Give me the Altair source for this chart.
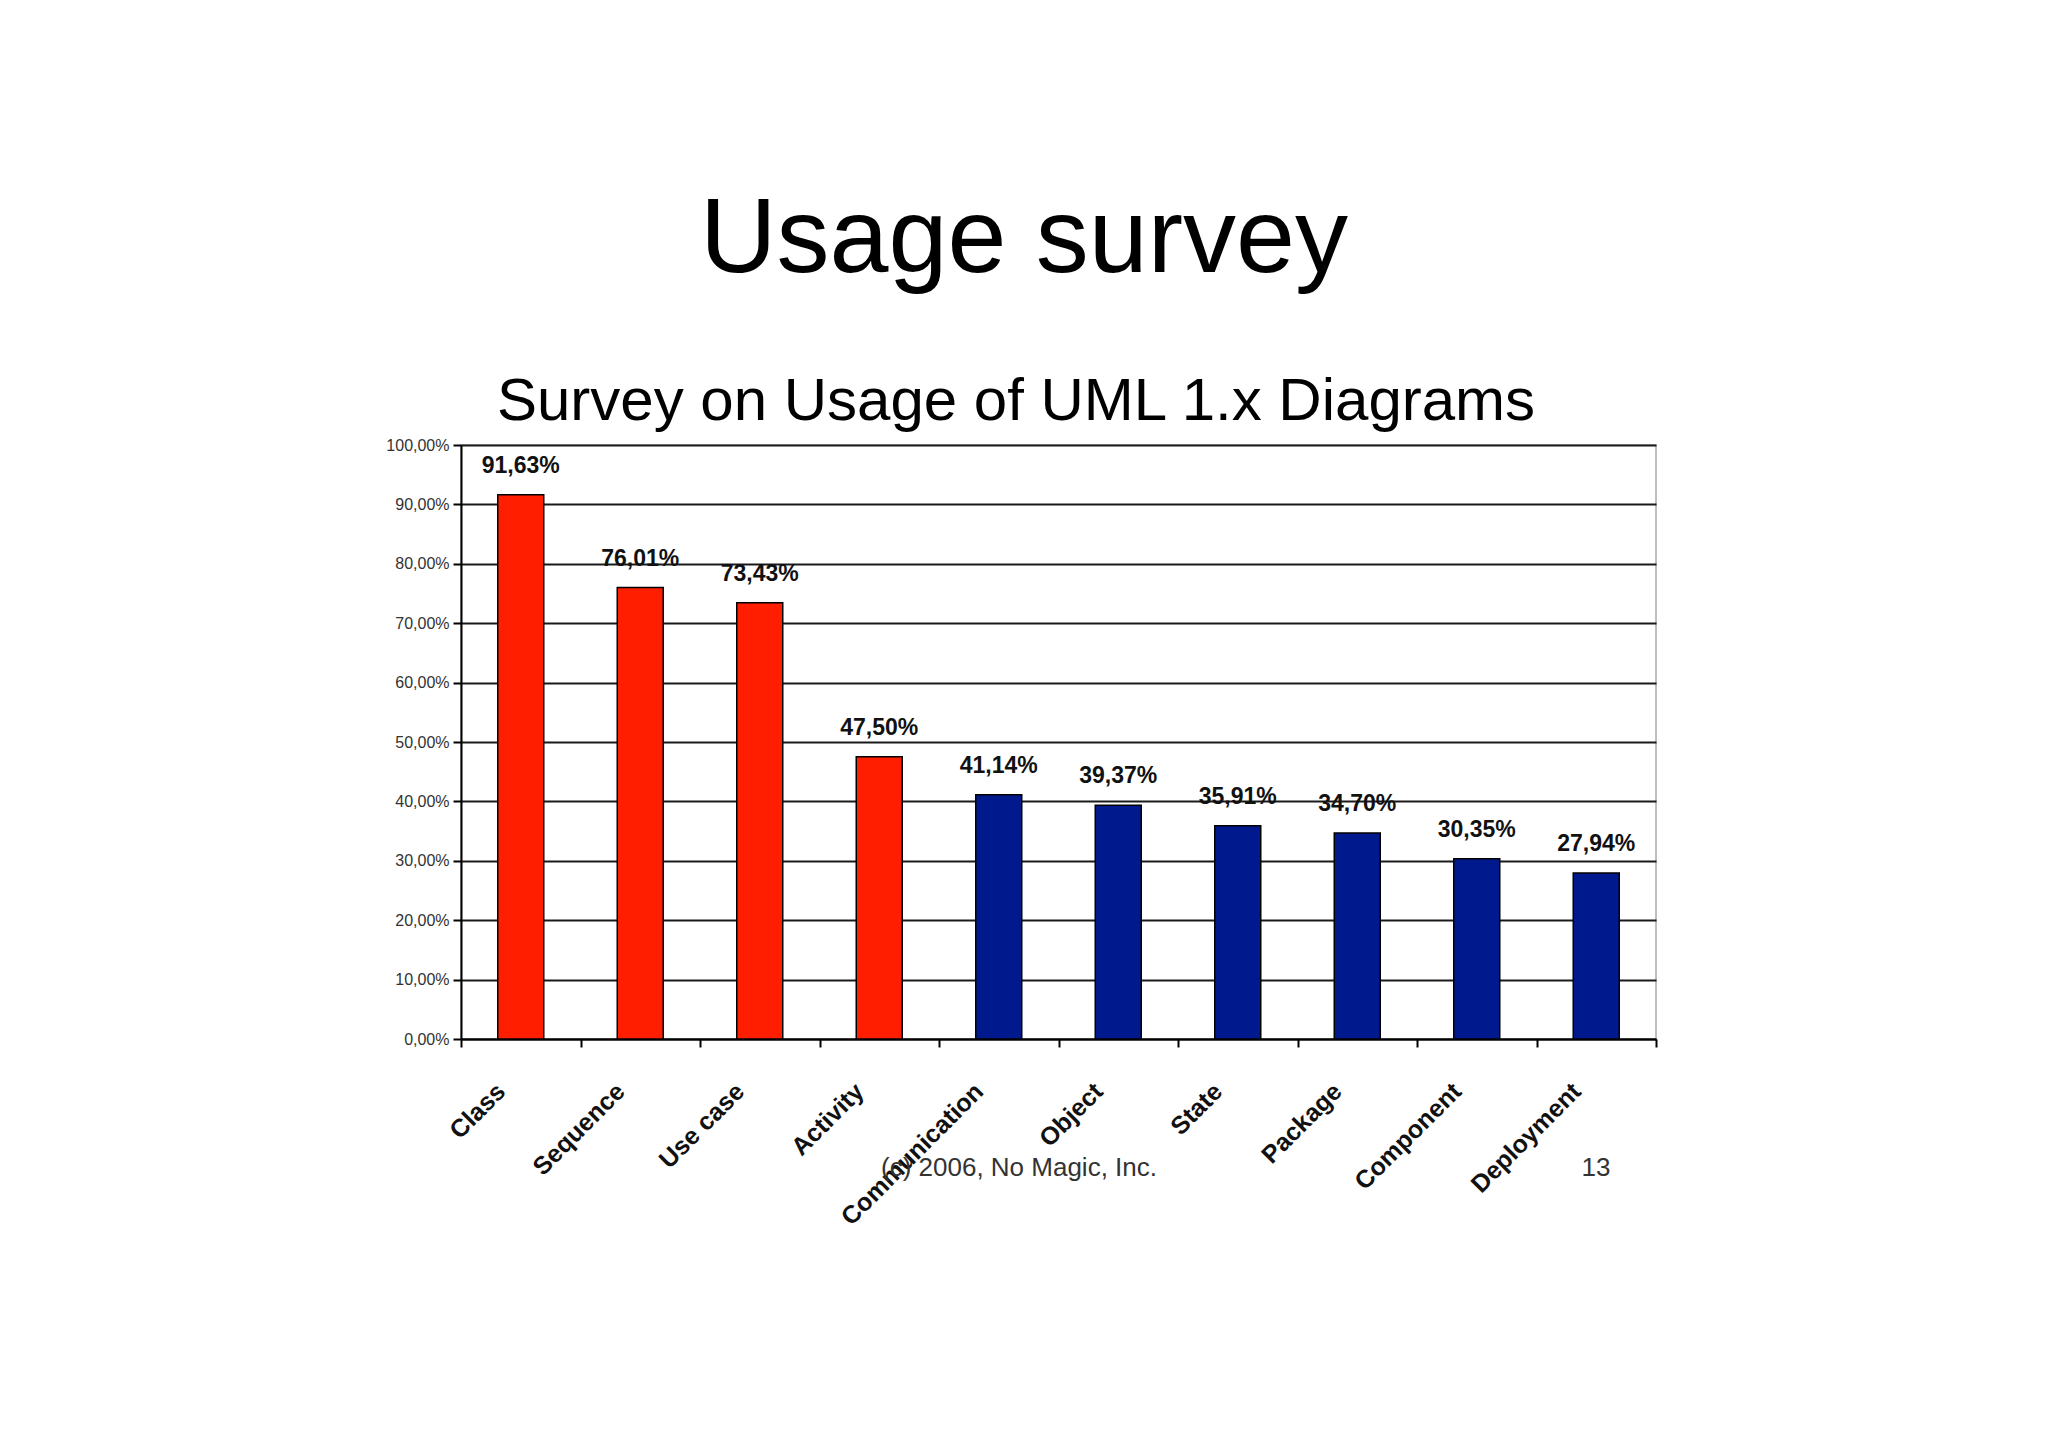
import altair as alt
import pandas as pd

categories = ["Class", "Sequence", "Use case", "Activity", "Communication",
              "Object", "State", "Package", "Component", "Deployment"]
values = [91.63, 76.01, 73.43, 47.50, 41.14, 39.37, 35.91, 34.70, 30.35, 27.94]
groups = ["top", "top", "top", "top", "other",
          "other", "other", "other", "other", "other"]
y_ticks = [0, 10, 20, 30, 40, 50, 60, 70, 80, 90, 100]

page_title = "Usage survey"
chart_title = "Survey on Usage of UML 1.x Diagrams"
footer = "(c) 2006, No Magic, Inc."
page_number = "13"

df = pd.DataFrame({"cat": categories, "value": values, "group": groups})

FONT = "Liberation Sans"

x_enc = alt.X(
    "cat:N", sort=categories,
    scale=alt.Scale(paddingInner=0, paddingOuter=0),
    axis=alt.Axis(
        title=None, labelAngle=-45, labelAlign="right", labelBaseline="middle",
        labelFont=FONT, labelFontWeight="bold", labelFontSize=25,
        labelColor="#111111", labelPadding=40, labelOffset=-20, labelLimit=0,
        tickBand="extent", tickSize=8, tickColor="black", tickWidth=2,
        domainColor="black", domainWidth=2, grid=False,
    ),
)
y_enc = alt.Y(
    "value:Q",
    scale=alt.Scale(domain=[0, 100]),
    axis=alt.Axis(
        title=None, values=y_ticks,
        labelExpr="replace(format(datum.value, '.2f'), '.', ',') + '%'",
        labelFont=FONT, labelFontSize=16, labelColor="#333333", labelPadding=4,
        tickSize=8, tickColor="black", tickWidth=2,
        domainColor="black", domainWidth=2,
        grid=True, gridColor="#1a1a1a", gridWidth=2,
    ),
)

base = alt.Chart(df)

bars = base.mark_bar(width=46, stroke="black", strokeWidth=1.5).encode(
    x=x_enc, y=y_enc,
    color=alt.Color("group:N",
                    scale=alt.Scale(domain=["top", "other"],
                                    range=["#FF1E00", "#001A8E"]),
                    legend=None),
)

labels = base.transform_calculate(
    label="replace(format(datum.value, '.2f'), '.', ',') + '%'"
).mark_text(
    dy=-22, baseline="alphabetic", font=FONT, fontSize=23,
    fontWeight="bold", color="#111111",
).encode(x=alt.X("cat:N", sort=categories), y="value:Q", text="label:N")

def annot(text, x, y, size, color="black", weight="normal"):
    return alt.Chart(pd.DataFrame({"t": [text]})).mark_text(
        font=FONT, fontSize=size, color=color, fontWeight=weight,
        align="center", baseline="alphabetic",
    ).encode(text="t:N", x=alt.value(x), y=alt.value(y))

t1 = annot(page_title, 563, -173, 106)
t2 = annot(chart_title, 555, -25, 60)
t3 = annot(footer, 558, 731, 26, color="#333333")
t4 = annot(page_number, 1135, 731, 26, color="#333333")

chart = alt.layer(bars, labels, t1, t2, t3, t4).properties(
    width=1195, height=594,
    autosize=alt.AutoSizeParams(type="none"),
    padding={"left": 453, "top": 437, "right": 370, "bottom": 380},
    background="white",
).configure_view(stroke="#aaaaaa", strokeWidth=1.5)

chart.save("out.html", embed_options={"renderer": "svg", "actions": False})
